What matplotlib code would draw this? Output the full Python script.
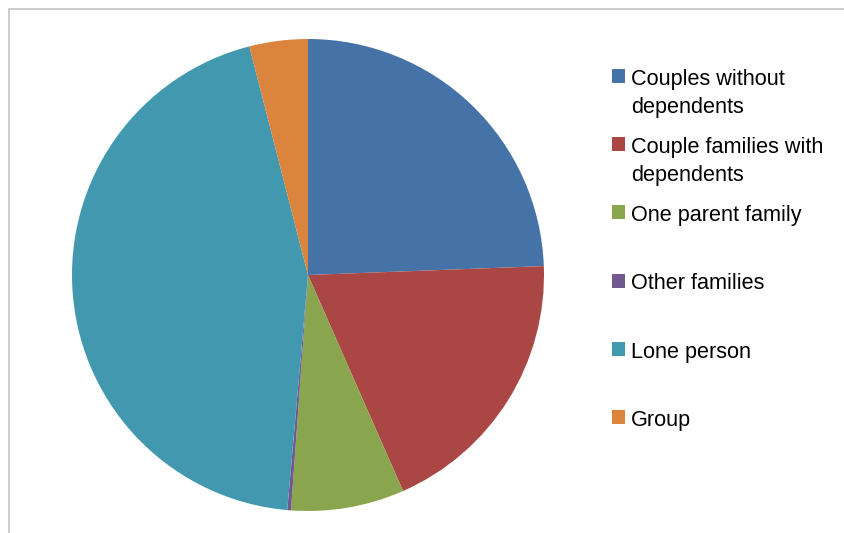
import matplotlib.pyplot as plt
from matplotlib.patches import Rectangle

labels = ['Couples without\ndependents', 'Couple families with\ndependents',
          'One parent family', 'Other families', 'Lone person', 'Group']
shares = [24.4, 19.0, 7.75, 0.25, 44.6, 4.0]
colors = ['#4572A7', '#AA4643', '#89A54E', '#71588F', '#4198AF', '#DB843D']

W, H = 845, 533
fig = plt.figure(figsize=(W / 100, H / 100), dpi=100)

# pie sits in a square axes, radius 236 px around (308, 275)
cx, cy, r = 308, 275, 236
ax = fig.add_axes([(cx - r) / W, (H - cy - r) / H, 2 * r / W, 2 * r / H])
ax.pie(shares, colors=colors, startangle=90, counterclock=False,
       wedgeprops=dict(linewidth=0))
ax.set_xlim(-1, 1)
ax.set_ylim(-1, 1)
ax.set_aspect('equal')
ax.axis('off')

# chart area border (runs off the right and bottom edges)
fig.patches.append(Rectangle((9.5 / W, -0.1), 1.2, 1.1 - 9.5 / H,
                             transform=fig.transFigure, fill=False,
                             edgecolor='#c4c4c4', linewidth=1.2))

# legend, drawn by hand: one text per line, baseline-aligned
font = ['Liberation Sans', 'DejaVu Sans']
y0, step, lead = 76, 68.2, 28
for i, (lab, col) in enumerate(zip(labels, colors)):
    y = y0 + i * step
    fig.patches.append(Rectangle((612 / W, (H - y - 7) / H), 13.5 / W, 14 / H,
                                 transform=fig.transFigure, facecolor=col,
                                 edgecolor='none'))
    for k, line in enumerate(lab.split('\n')):
        fig.text(631 / W, (H - y - 8.8 - k * lead) / H, line, fontsize=15.6,
                 family=font, va='baseline', ha='left', color='#000000')

fig.savefig('out.png', dpi=100)
